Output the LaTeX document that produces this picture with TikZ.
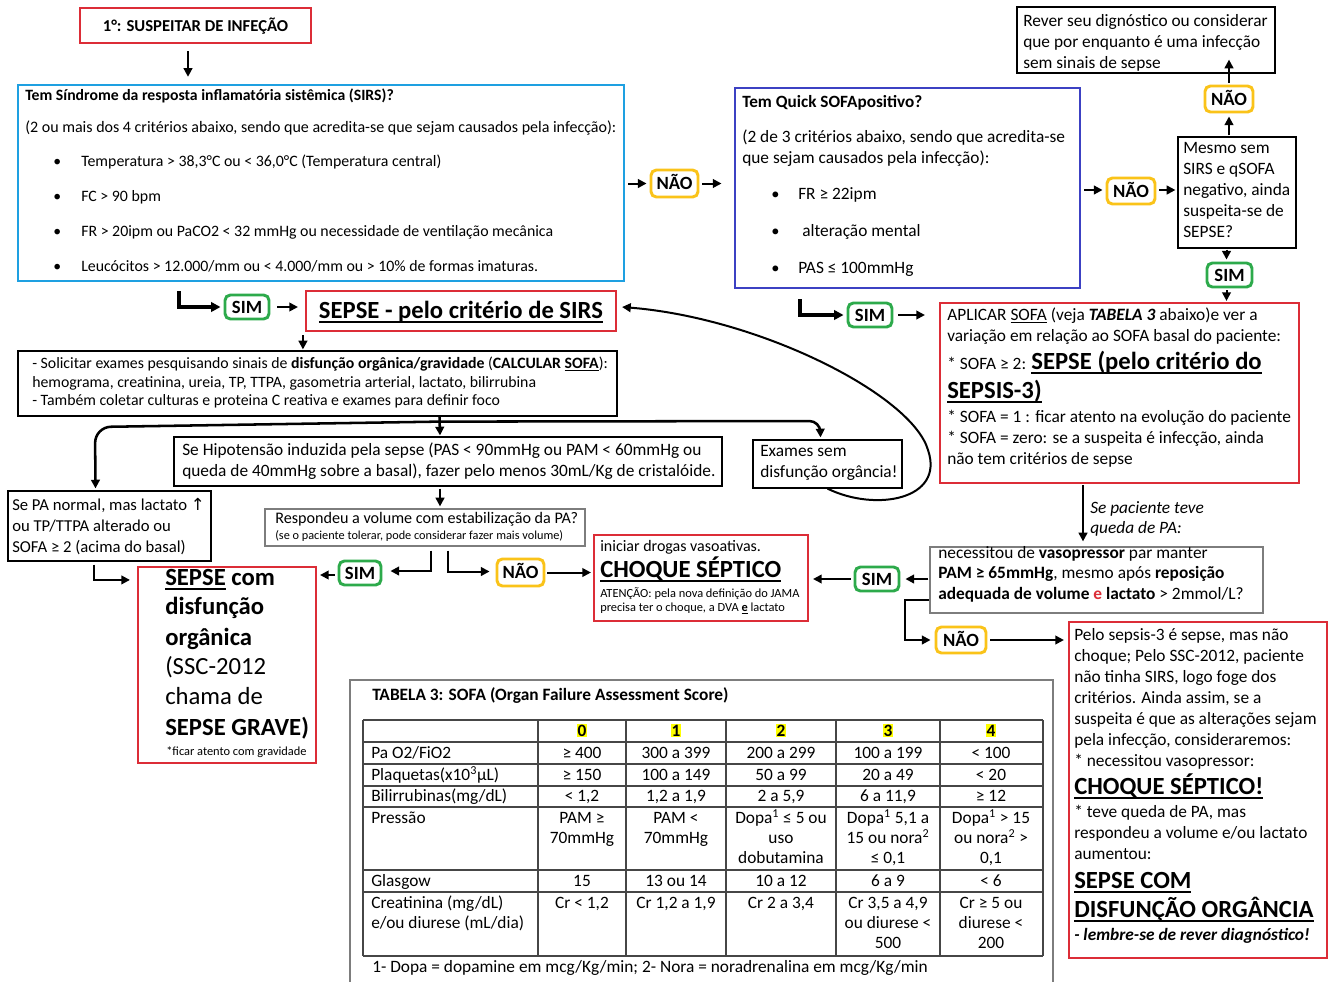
\documentclass[tikz,border=0pt]{standalone}
\usepackage{fontspec}
\setmainfont{Carlito}
\newfontfamily\symf{DejaVu Sans}
\usetikzlibrary{arrows.meta,fit,calc}
\definecolor{cred}{RGB}{220,45,55}
\definecolor{ccyan}{RGB}{30,160,225}
\definecolor{cblue}{RGB}{60,65,195}
\definecolor{cyel}{RGB}{250,195,25}
\definecolor{cgrn}{RGB}{45,170,75}
\definecolor{cgray}{RGB}{125,125,125}
\definecolor{cline}{RGB}{70,70,70}
\definecolor{hl}{RGB}{255,255,0}
\newcommand\fs[1]{\fontsize{#1}{#1}\selectfont}
\newcounter{tn}
\newcommand\TL[4][]{\stepcounter{tn}\node[tx,#1] (t\arabic{tn}) at (#2,#3) {#4};}
\newcommand\TC[4][]{\stepcounter{tn}\node[tc,#1] (t\arabic{tn}) at (#2,#3) {#4};}
\newcommand\PT[2]{\node[ptx] (#1t) at ($(#1.center)+(0,6)$) {#2};}
\newsavebox\ulbox
\newcommand\ulb[1]{\sbox\ulbox{#1}\rlap{\rule[-0.2em]{\wd\ulbox}{0.075em}}\usebox\ulbox}
\begin{document}
\begin{tikzpicture}[x=0.75pt,y=-0.75pt,
 tx/.style={anchor=base west,inner sep=0pt,font=\fs{13}},
 tc/.style={anchor=base,inner sep=0pt,font=\fs{13}},
 bx/.style={draw,inner sep=0pt,line width=0.9pt},
 rbx/.style={bx,draw=cred,line width=1.6pt},
 pill/.style={draw,fill=white,rounded corners=4pt,line width=2.2pt,inner sep=0pt},
 ptx/.style={anchor=base,inner sep=0pt,font=\bfseries\fs{14}},
 nao/.style={pill,draw=cyel},
 sim/.style={pill,draw=cgrn},
 arr/.style={line width=1.5pt,-{Triangle[length=6.5pt,width=6.5pt]}},
 arrT/.style={line width=2.8pt,-{Triangle[length=7pt,width=7pt]}},
 bigb/.style={font=\bfseries\fs{18.5}},
 bigr/.style={font=\fs{18.5}},
 hd/.style={fill=hl,inner sep=0.6pt,anchor=base,font=\bfseries\fs{13}},
 tl/.style={cline,line width=0.9pt}]
\fill[white] (0,0) rectangle (1332,982);
\useasboundingbox (0,0) rectangle (1332,982);

% ---------------- boxes
\node[rbx,fit={(80,8)(311,43)}] (b1) {};
\node[anchor=base,inner sep=0pt,font=\bfseries\fs{12.5}] (b1t) at ($(b1.center)+(0,5.5)$) {1°: SUSPEITAR DE INFEÇÃO};
\node[bx,draw=ccyan,line width=1.8pt,fit={(18,85)(624,281)}] (sirs) {};
\node[bx,draw=cblue,line width=1.8pt,fit={(735,88)(1080,288)}] (qsofa) {};
\node[bx,fit={(1017,7)(1275,73)}] (rever) {};
\node[bx,fit={(1178,137)(1296,248)}] (mesmo) {};
\node[rbx,fit={(306,291)(616,331)}] (sepsirs) {};
\node[anchor=base,inner sep=0pt,font=\bfseries\fs{18.5}] (sepsirst) at ($(sepsirs.center)+(0,7)$) {\ulb{SEPSE - pelo critério de SIRS}};
\node[bx,fit={(18,351)(617,416)}] (exames) {};
\node[bx,fit={(174,437)(722,486)}] (hipo) {};
\node[bx,fit={(753,440)(902,488)}] (semdisf) {};
\node[bx,fit={(8,491)(211,561)}] (panorm) {};
\node[bx,draw=cgray,fit={(265,509)(585,546)}] (resp) {};
\node[rbx,fit={(138,567)(316,763)}] (sepcom) {};
\node[rbx,fit={(594,535)(808,621)}] (choque) {};
\node[rbx,fit={(940,303)(1299,483)}] (aplicar) {};
\node[bx,draw=cgray,fit={(930,547)(1263,613)}] (necess) {};
\node[rbx,fit={(1069,622)(1327,958)}] (pelo) {};
\node[bx,draw=cgray,line width=1.6pt,fit={(350,680)(1053,1000)}] (tab) {};

% ---------------- pills
\node[nao,fit={(651,170)(698,197)}] (nao1) {};\PT{nao1}{NÃO}
\node[nao,fit={(1107,178)(1155,204)}] (nao2) {};\PT{nao2}{NÃO}
\node[nao,fit={(1205,86)(1253,112)}] (nao3) {};\PT{nao3}{NÃO}
\node[sim,fit={(1207,263)(1252,287)}] (sim3) {};\PT{sim3}{SIM}
\node[sim,fit={(225,295)(269,319)}] (sim1) {};\PT{sim1}{SIM}
\node[sim,fit={(848,303)(892,327)}] (sim2) {};\PT{sim2}{SIM}
\node[sim,fit={(339,561)(381,585)}] (sim4) {};\PT{sim4}{SIM}
\node[nao,fit={(497,559)(544,586)}] (nao4) {};\PT{nao4}{NÃO}
\node[sim,fit={(855,567)(899,591)}] (sim5) {};\PT{sim5}{SIM}
\node[nao,fit={(936,627)(986,653)}] (nao5) {};\PT{nao5}{NÃO}

% ---------------- texts: SIRS
\TL[font=\bfseries\fs{11.8}]{25}{100}{Tem Síndrome da resposta inflamatória sistêmica (SIRS)?}
\TL[font=\fs{12}]{25}{132}{(2 ou mais dos 4 critérios abaixo, sendo que acredita-se que sejam causados pela infecção):}
\foreach \yy in {166,201,236,271} {\TL[font=\fs{11.8}]{53}{\yy}{•}}
\TL[font=\fs{11.9}]{81}{166}{Temperatura > 38,3°C ou < 36,0°C (Temperatura central)}
\TL[font=\fs{11.9}]{81}{201}{FC > 90 bpm}
\TL[font=\fs{11.9}]{81}{236}{FR > 20ipm ou PaCO2 < 32 mmHg ou necessidade de ventilação mecânica}
\TL[font=\fs{11.9}]{81}{271}{Leucócitos > 12.000/mm ou < 4.000/mm ou > 10\% de formas imaturas.}

% qSOFA
\TL[font=\bfseries\fs{12.9}]{742}{107}{Tem Quick SOFApositivo?}
\TL[font=\fs{13}]{742}{142}{(2 de 3 critérios abaixo, sendo que acredita-se}
\TL[font=\fs{13}]{742}{163}{que sejam causados pela infecção):}
\foreach \yy in {199,236,273} {\TL[font=\fs{12.3}]{771}{\yy}{•}}
\TL[font=\fs{13}]{798}{199}{FR ≥ 22ipm}
\TL[font=\fs{13}]{802}{236}{alteração mental}
\TL[font=\fs{13}]{798}{273}{PAS ≤ 100mmHg}

% rever / mesmo
\TL{1023}{26}{Rever seu dignóstico ou considerar}
\TL{1023}{47}{que por enquanto é uma infecção}
\TL{1023}{68}{sem sinais de sepse}
\TL{1183}{153}{Mesmo sem}
\TL{1183}{174}{SIRS e qSOFA}
\TL{1183}{195}{negativo, ainda}
\TL{1183}{216}{suspeita-se de}
\TL{1183}{237}{SEPSE?}

% exames
\TL[font=\fs{11.85}]{32}{368}{- Solicitar exames pesquisando sinais de \textbf{disfunção orgânica/gravidade} (\textbf{CALCULAR \underline{SOFA}}):}
\TL[font=\fs{11.85}]{32}{387}{hemograma, creatinina, ureia, TP, TTPA, gasometria arterial, lactato, bilirrubina}
\TL[font=\fs{11.85}]{32}{405}{- Também coletar culturas e proteina C reativa e exames para definir foco}

% hipotensao, sem disf
\TL{182}{455}{Se Hipotensão induzida pela sepse (PAS < 90mmHg ou PAM < 60mmHg ou}
\TL{182}{476}{queda de 40mmHg sobre a basal), fazer pelo menos 30mL/Kg de cristalóide.}
\TL{760}{456}{Exames sem}
\TL{760}{477}{disfunção orgância!}

% PA normal
\TL[font=\fs{12.5}]{12}{510}{Se PA normal, mas lactato {\symf ↑}}
\TL[font=\fs{12.5}]{12}{531}{ou TP/TTPA alterado ou}
\TL[font=\fs{12.5}]{12}{552}{SOFA ≥ 2 (acima do basal)}

% respondeu
\TL[font=\fs{12.1}]{275}{523}{Respondeu a volume com estabilização da PA?}
\TL[font=\fs{9.2}]{275}{539}{(se o paciente tolerar, pode considerar fazer mais volume)}

% sepse com
\TL[bigb]{165}{585}{\ulb{SEPSE} com}
\TL[bigb]{165}{614}{disfunção}
\TL[bigb]{165}{645}{orgânica}
\TL[bigr]{165}{674}{(SSC-2012}
\TL[bigr]{165}{704}{chama de}
\TL[bigb]{165}{735}{SEPSE GRAVE)}
\TL[font=\fs{9.3}]{166}{755}{*ficar atento com gravidade}

% choque
\TL[font=\fs{12}]{600}{551}{iniciar drogas vasoativas.}
\TL[bigb]{600}{577}{\ulb{CHOQUE SÉPTICO}}
\TL[font=\fs{9.3}]{600}{597}{ATENÇÃO: pela nova definição do JAMA}
\TL[font=\fs{9.3}]{600}{611}{precisa ter o choque, a DVA \underline{\textbf{e}} lactato}

% aplicar
\TL{947}{320}{APLICAR \underline{SOFA} (veja \textbf{\textit{TABELA 3}} abaixo)e ver a}
\TL{947}{341}{variação em relação ao SOFA basal do paciente:}
\TL{947}{369}{* SOFA ≥ 2: {\bfseries\fs{18.5}\ulb{SEPSE (pelo critério do}}}
\TL[bigb]{947}{398}{\ulb{SEPSIS-3)}}
\TL{947}{422}{* SOFA = 1 : ficar atento na evolução do paciente}
\TL{947}{443}{* SOFA = zero: se a suspeita é infecção, ainda}
\TL{947}{464}{não tem critérios de sepse}
\TL[font=\itshape\fs{13}]{1090}{513}{Se paciente teve}
\TL[font=\itshape\fs{13}]{1090}{533}{queda de PA:}

% necessitou
\TL{938}{558}{necessitou de \textbf{vasopressor} par manter}
\TL{938}{578}{\textbf{PAM ≥ 65mmHg}, mesmo após \textbf{reposição}}
\TL{938}{599}{\textbf{adequada de volume} \textcolor{cred}{\textbf{e}} \textbf{lactato} > 2mmol/L?}

% pelo sepsis-3
\TL{1074}{640}{Pelo sepsis-3 é sepse, mas não}
\TL{1074}{661}{choque; Pelo SSC-2012, paciente}
\TL{1074}{682}{não tinha SIRS, logo foge dos}
\TL{1074}{703}{critérios. Ainda assim, se a}
\TL{1074}{724}{suspeita é que as alterações sejam}
\TL{1074}{745}{pela infecção, consideraremos:}
\TL{1074}{766}{* necessitou vasopressor:}
\TL[bigb]{1074}{794}{\ulb{CHOQUE SÉPTICO!}}
\TL{1074}{817}{* teve queda de PA, mas}
\TL{1074}{838}{respondeu a volume e/ou lactato}
\TL{1074}{859}{aumentou:}
\TL[bigb]{1074}{888}{\ulb{SEPSE COM}}
\TL[bigb]{1074}{917}{\ulb{DISFUNÇÃO ORGÂNCIA}}
\TL[font=\bfseries\itshape\fs{13}]{1074}{940}{- lembre-se de rever diagnóstico!}

% ---------------- table
\TL[font=\bfseries\fs{13}]{372}{700}{TABELA 3: SOFA (Organ Failure Assessment Score)}
\foreach \yy in {720,742,764,786,807,870,892,956} {\draw[tl] (363,\yy) -- (1043,\yy);}
\foreach \xx in {363,538,626,726,836,940,1043} {\draw[tl] (\xx,720) -- (\xx,956);}
\node[hd] (h0) at (582,736) {0};
\node[hd] (h1) at (676,736) {1};
\node[hd] (h2) at (781,736) {2};
\node[hd] (h3) at (888,736) {3};
\node[hd] (h4) at (991,736) {4};
\TL{371}{758}{Pa O2/FiO2}
\TC{582}{758}{≥ 400}\TC{676}{758}{300 a 399}\TC{781}{758}{200 a 299}\TC{888}{758}{100 a 199}\TC{991}{758}{< 100}
\TL{371}{780}{Plaquetas(x10\textsuperscript{3}µL)}
\TC{582}{780}{≥ 150}\TC{676}{780}{100 a 149}\TC{781}{780}{50 a 99}\TC{888}{780}{20 a 49}\TC{991}{780}{< 20}
\TL{371}{801}{Bilirrubinas(mg/dL)}
\TC{582}{801}{< 1,2}\TC{676}{801}{1,2 a 1,9}\TC{781}{801}{2 a 5,9}\TC{888}{801}{6 a 11,9}\TC{991}{801}{≥ 12}
\TL{371}{823}{Pressão}
\TC{582}{823}{PAM ≥}\TC{582}{843}{70mmHg}
\TC{676}{823}{PAM <}\TC{676}{843}{70mmHg}
\TC{781}{823}{Dopa\textsuperscript{1} ≤ 5 ou}\TC{781}{843}{uso}\TC{781}{863}{dobutamina}
\TC{888}{823}{Dopa\textsuperscript{1} 5,1 a}\TC{888}{843}{15 ou nora\textsuperscript{2}}\TC{888}{863}{≤ 0,1}
\TC{991}{823}{Dopa\textsuperscript{1} > 15}\TC{991}{843}{ou nora\textsuperscript{2} >}\TC{991}{863}{0,1}
\TL{371}{886}{Glasgow}
\TC{582}{886}{15}\TC{676}{886}{13 ou 14}\TC{781}{886}{10 a 12}\TC{888}{886}{6 a 9}\TC{991}{886}{< 6}
\TL{371}{908}{Creatinina (mg/dL)}\TL{371}{928}{e/ou diurese (mL/dia)}
\TC{582}{908}{Cr < 1,2}\TC{676}{908}{Cr 1,2 a 1,9}\TC{781}{908}{Cr 2 a 3,4}
\TC{888}{908}{Cr 3,5 a 4,9}\TC{888}{928}{ou diurese <}\TC{888}{948}{500}
\TC{991}{908}{Cr ≥ 5 ou}\TC{991}{928}{diurese <}\TC{991}{948}{200}
\TL{372}{972}{1- Dopa = dopamine em mcg/Kg/min; 2- Nora = noradrenalina em mcg/Kg/min}

% ---------------- connectors
\draw[arr] ($(b1.south)+(-7.5,7)$) -- ($(sirs.north)+(-133,-7)$);
\draw[arr] ($(sirs.east |- nao1.west)+(3,0)$) -- ($(nao1.west)+(-3,0)$);
\draw[arr] ($(nao1.east)+(3,0)$) -- ($(nao1.east)+(22,0)$);
\draw[arr] ($(qsofa.east |- nao2.west)+(3,-1)$) -- ($(nao2.west)+(-3,-1)$);
\draw[arr] ($(nao2.east)+(3,-1)$) -- ($(mesmo.west |- nao2.east)+(-2,-1)$);
\draw[arr] ($(mesmo.north -| nao3.south)+(0,-1)$) -- ($(nao3.south)+(0,3)$);
\draw[arr] ($(nao3.north)+(0,-2)$) -- ($(rever.south -| nao3.north)+(0,-14)$);
\draw[arr] ($(mesmo.south -| sim3.north)+(-3,1)$) -- ($(sim3.north)+(-3,-2)$);
\draw[arr] ($(sim3.south)+(-3,2)$) -- ($(aplicar.north -| sim3.south)+(-3,-1)$);
\draw[arrT] ($(sirs.south west)+(162,9)$) |- ($(sim1.west)+(-3,0)$);
\draw[arr] ($(sim1.east)+(7,0)$) -- ($(sepsirs.west |- sim1.east)+(-7,0)$);
\draw[arr] ($(sepsirs.south west)+(-2,3)$) -- ($(exames.north -| sepsirs.south west)+(-2,-1)$);
\draw[arr,line width=1.9pt,rounded corners=12pt] ($(exames.south)+(122,5)$) -- (95,427) -- ($(panorm.north)+(-14,-2)$);
\draw[arr,line width=1.9pt,rounded corners=8pt] ($(exames.south)+(122,5)$) -- (820,421) -- ($(semdisf.north)+(-7,-2)$);
\draw[arr,line width=1.9pt] ($(exames.south)+(122,0)$) -- ($(hipo.north)+(-8,-1)$);
\draw[arr] ($(hipo.south)+(-8,2)$) -- ($(resp.north -| hipo.south)+(-8,-2)$);
\draw[arr] ($(resp.south)+(6,4)$) |- ($(sim4.east)+(8,-2)$);
\draw[arr] ($(sim4.west)+(-3,2)$) -- ($(sepcom.east |- sim4.west)+(3,2)$);
\draw[arr] ($(resp.south)+(23,4)$) |- ($(nao4.west)+(-6,-1)$);
\draw[arr] ($(nao4.east)+(2,0)$) -- ($(choque.west |- nao4.east)+(-2,0)$);
\draw[arr] ($(panorm.south)+(-16,3)$) |- ($(sepcom.north west)+(-7,14)$);
\draw[arr] (semdisf.south) .. controls (875,512) and (945,500) .. (928,450) .. controls (912,395) and (760,318) .. ($(sepsirs.east)+(5,-4)$);
\draw[arr] ($(aplicar.south)+(-36.5,1)$) -- ($(necess.north -| aplicar.south)+(-36.5,-5)$);
\draw[arr] ($(necess.west |- sim5.east)+(-1,0)$) -- ($(sim5.east)+(5,0)$);
\draw[arr] ($(sim5.west)+(-3,0)$) -- ($(choque.east |- sim5.west)+(4,0)$);
\draw[arr] ($(necess.west)+(0,20)$) -- ++(-24,0) |- ($(nao5.west)+(-4,0)$);
\draw[arr] ($(nao5.east)+(3,0)$) -- ($(pelo.west |- nao5.east)+(-4,0)$);
\draw[arrT] ($(qsofa.south west)+(66,10)$) |- ($(sim2.west)+(-3,0)$);
\draw[arr] ($(sim2.east)+(5,0)$) -- ($(aplicar.west |- sim2.east)+(-14,0)$);
\end{tikzpicture}
\end{document}
